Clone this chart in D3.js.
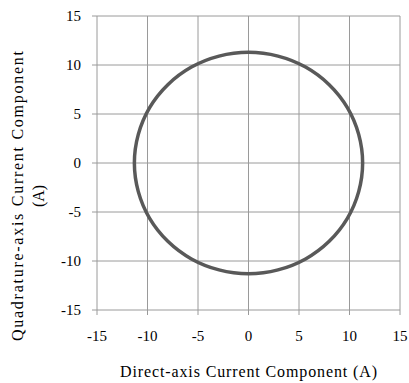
<!DOCTYPE html>
<html>
<head>
<meta charset="utf-8">
<script src="https://cdn.jsdelivr.net/npm/d3@7"></script>
<style>
  body { margin: 0; background: #fff; }
</style>
</head>
<body>
<svg id="chart" width="409" height="383"></svg>
<script>
// 軸の目盛り
const xTicks = [-15, -10, -5, 0, 5, 10, 15];
const yTicks = [-15, -10, -5, 0, 5, 10, 15];

// 電流軌跡 (d軸, q軸)
const idValues = [11.3, 10.91, 9.79, 7.99, 5.65, 2.92, 0, -2.92, -5.65, -7.99, -9.79, -10.91,
                  -11.3, -10.91, -9.79, -7.99, -5.65, -2.92, 0, 2.92, 5.65, 7.99, 9.79, 10.91];
const iqValues = [0, 2.92, 5.65, 7.99, 9.79, 10.91, 11.3, 10.91, 9.79, 7.99, 5.65, 2.92,
                  0, -2.92, -5.65, -7.99, -9.79, -10.91, -11.3, -10.91, -9.79, -7.99, -5.65, -2.92];

const xLabel = "Direct-axis Current Component (A)";
const yLabel = ["Quadrature-axis Current Component", "(A)"];

const Font = "Liberation Serif";

const svg = d3.select("#chart");
const plotLeft = 97, plotRight = 400, plotTop = 16, plotBottom = 310;

const x = d3.scaleLinear().domain([-15, 15]).range([plotLeft, plotRight]);
const y = d3.scaleLinear().domain([-15, 15]).range([plotBottom, plotTop]);

// グリッド線
svg.append("g")
   .selectAll("line")
   .data(xTicks)
   .enter()
   .append("line")
   .attr("x1", (d) => x(d)).attr("x2", (d) => x(d))
   .attr("y1", plotTop).attr("y2", plotBottom + 5)
   .attr("stroke", "#9a9a9a").attr("stroke-width", 1);

svg.append("g")
   .selectAll("line")
   .data(yTicks)
   .enter()
   .append("line")
   .attr("x1", plotLeft - 5).attr("x2", plotRight)
   .attr("y1", (d) => y(d)).attr("y2", (d) => y(d))
   .attr("stroke", "#9a9a9a").attr("stroke-width", 1);

// 目盛りラベル
svg.append("g")
   .selectAll("text")
   .data(xTicks)
   .enter()
   .append("text")
   .attr("x", (d) => x(d))
   .attr("y", 341)
   .attr("text-anchor", "middle")
   .style("font-family", Font)
   .style("font-size", "15px")
   .text((d) => d);

svg.append("g")
   .selectAll("text")
   .data(yTicks)
   .enter()
   .append("text")
   .attr("x", 81)
   .attr("y", (d) => y(d) + 5)
   .attr("text-anchor", "end")
   .style("font-family", Font)
   .style("font-size", "15px")
   .text((d) => d);

// 軸タイトル
svg.append("text")
   .attr("x", 120)
   .attr("y", 377)
   .attr("textLength", 257)
   .attr("lengthAdjust", "spacing")
   .style("font-family", Font)
   .style("font-size", "16px")
   .text(xLabel);

svg.append("g")
   .attr("transform", "translate(23,196) rotate(-90)")
   .selectAll("text")
   .data(yLabel)
   .enter()
   .append("text")
   .attr("x", 0)
   .attr("y", (d, i) => i * 21)
   .attr("text-anchor", "middle")
   .attr("textLength", (d, i) => i === 0 ? 290 : null)
   .attr("lengthAdjust", "spacing")
   .style("font-family", Font)
   .style("font-size", "16px")
   .text((d) => d);

// 軌跡
const points = idValues.map((d, i) => [d, iqValues[i]]);
svg.append("path")
   .datum(points)
   .attr("fill", "none")
   .attr("stroke", "#595959")
   .attr("stroke-width", 3.5)
   .attr("d", d3.line()
      .x((d) => x(d[0]))
      .y((d) => y(d[1]))
      .curve(d3.curveCardinalClosed));
</script>
</body>
</html>
